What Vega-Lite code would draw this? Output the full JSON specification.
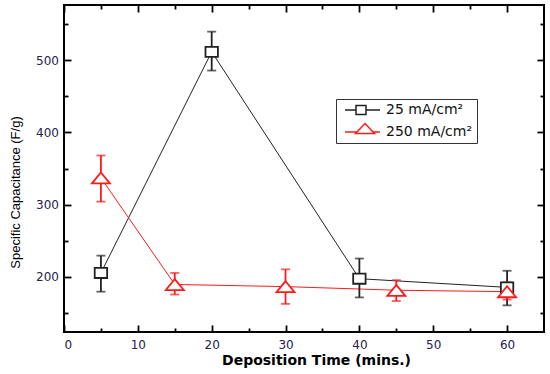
{
  "$schema": "https://vega.github.io/schema/vega-lite/v6.json",
  "width": 480,
  "height": 327,
  "autosize": "none",
  "padding": {"left": 64, "top": 5, "right": 6, "bottom": 42},
  "background": "white",
  "config": {
    "view": {"stroke": "black", "strokeWidth": 2},
    "font": "DejaVu Sans",
    "axis": {
      "domain": false,
      "grid": false,
      "labelFont": "DejaVu Sans",
      "labelFontSize": 12,
      "labelColor": "#23234d",
      "tickColor": "black",
      "tickWidth": 1.8,
      "titleColor": "black"
    }
  },
  "data": {
    "values": [
      {"series": "25 mA/cm²", "time": 5, "value": 205, "lower": 179, "upper": 229},
      {"series": "25 mA/cm²", "time": 20, "value": 512, "lower": 486, "upper": 540},
      {"series": "25 mA/cm²", "time": 40, "value": 197, "lower": 171, "upper": 225},
      {"series": "25 mA/cm²", "time": 60, "value": 185, "lower": 160, "upper": 208},
      {"series": "250 mA/cm²", "time": 5, "value": 337, "lower": 304, "upper": 368},
      {"series": "250 mA/cm²", "time": 15, "value": 189, "lower": 175, "upper": 205},
      {"series": "250 mA/cm²", "time": 30, "value": 186, "lower": 162, "upper": 210},
      {"series": "250 mA/cm²", "time": 45, "value": 181, "lower": 166, "upper": 195},
      {"series": "250 mA/cm²", "time": 60, "value": 179, "lower": 168, "upper": 192}
    ]
  },
  "resolve": {"axis": {"x": "independent", "y": "independent"}, "scale": {"shape": "independent", "stroke": "independent"}},
  "layer": [
    {
      "mark": {"type": "line", "strokeWidth": 1},
      "encoding": {
        "x": {"field": "time", "type": "quantitative", "scale": {"domain": [0, 65], "nice": false, "zero": false},
          "axis": {"orient": "bottom", "values": [0,5,10,15,20,25,30,35,40,45,50,55,60],
            "labelExpr": "datum.value % 10 === 0 ? datum.label : ''",
            "tickSize": {"condition": {"test": "datum.value % 10 === 0", "value": -7}, "value": -4},
            "labelPadding": 14,
            "title": "Deposition Time (mins.)", "titleFont": "DejaVu Sans", "titleFontSize": 14, "titleFontWeight": "bold",
            "titleX": 252, "titleY": 21, "titleBaseline": "top"}},
        "y": {"field": "value", "type": "quantitative", "scale": {"domain": [123, 577], "nice": false, "zero": false},
          "axis": {"orient": "left", "values": [150,200,250,300,350,400,450,500,550],
            "labelExpr": "datum.value % 100 === 0 ? datum.label : ''",
            "tickSize": {"condition": {"test": "datum.value % 100 === 0", "value": -7}, "value": -4},
            "labelPadding": 12.5,
            "title": "Specific Capacitance (F/g)", "titleFont": "Liberation Sans", "titleFontSize": 13, "titleFontWeight": "normal",
            "titleX": -42, "titleY": 187, "titleBaseline": "bottom"}},
        "color": {"field": "series", "type": "nominal", "scale": {"domain": ["25 mA/cm²", "250 mA/cm²"], "range": ["#222222", "#ff1a1a"]}, "legend": null},
        "detail": {"field": "series"}
      }
    },
    {
      "mark": {"type": "rule", "strokeWidth": 1.8},
      "encoding": {
        "x": {"field": "time", "type": "quantitative", "axis": null},
        "y": {"field": "lower", "type": "quantitative", "axis": null},
        "y2": {"field": "upper"},
        "color": {"field": "series", "type": "nominal", "legend": null}
      }
    },
    {
      "mark": {"type": "tick", "orient": "horizontal", "size": 9, "thickness": 1.8},
      "encoding": {
        "x": {"field": "time", "type": "quantitative", "axis": null},
        "y": {"field": "lower", "type": "quantitative", "axis": null},
        "color": {"field": "series", "type": "nominal", "legend": null}
      }
    },
    {
      "mark": {"type": "tick", "orient": "horizontal", "size": 9, "thickness": 1.8},
      "encoding": {
        "x": {"field": "time", "type": "quantitative", "axis": null},
        "y": {"field": "upper", "type": "quantitative", "axis": null},
        "color": {"field": "series", "type": "nominal", "legend": null}
      }
    },
    {
      "mark": {"type": "point", "filled": false, "fill": "white", "fillOpacity": 1, "opacity": 1, "strokeWidth": 1.8, "size": 324},
      "encoding": {
        "x": {"field": "time", "type": "quantitative",
          "axis": {"orient": "top", "values": [0,5,10,15,20,25,30,35,40,45,50,55,60], "labels": false, "title": null,
            "tickSize": {"condition": {"test": "datum.value % 10 === 0", "value": -7}, "value": -4}}},
        "y": {"field": "value", "type": "quantitative",
          "axis": {"orient": "right", "values": [150,200,250,300,350,400,450,500,550], "labels": false, "title": null,
            "tickSize": {"condition": {"test": "datum.value % 100 === 0", "value": -7}, "value": -4}}},
        "color": {"field": "series", "type": "nominal", "legend": null},
        "shape": {"field": "series", "type": "nominal",
          "scale": {"domain": ["25 mA/cm²", "250 mA/cm²"],
            "range": ["M-0.69,-0.56L0.69,-0.56L0.69,0.56L-0.69,0.56Z", "M0,-0.6L1,0.62L-1,0.62Z"]},
          "legend": null}
      }
    },
    {
      "mark": {"type": "point", "filled": false, "fill": "white", "opacity": 0, "strokeWidth": 1.5, "size": 144},
      "encoding": {
        "x": {"field": "time", "type": "quantitative", "axis": null},
        "y": {"field": "value", "type": "quantitative", "axis": null},
        "stroke": {"field": "series", "type": "nominal", "scale": {"domain": ["25 mA/cm²", "250 mA/cm²"], "range": ["#222222", "#ff1a1a"]},
          "legend": {"orient": "none", "legendX": 272, "legendY": 94, "title": null}},
        "shape": {"field": "series", "type": "nominal",
          "scale": {"domain": ["25 mA/cm²", "250 mA/cm²"],
            "range": ["M-4.833,0L-3,0M-1.333,0L1,0M-3,-0.75L-1.333,-0.75L-1.333,0.75L-3,0.75Z", "M-4.833,0L-2.846,0M-0.154,0L1,0M-1.5,-1.417L0.083,0.25L-3.083,0.25Z"]},
          "legend": {"orient": "none", "legendX": 272, "legendY": 94, "title": null,
            "strokeColor": "#333", "fillColor": "white", "padding": 4, "rowPadding": 2,
            "symbolSize": 144, "symbolStrokeWidth": 1.5, "symbolOpacity": 1, "symbolFillColor": "white",
            "symbolOffset": 27,
            "labelFontSize": 14, "labelFont": "DejaVu Sans", "labelColor": "#111", "labelOffset": 5}}
      }
    }
  ]
}
